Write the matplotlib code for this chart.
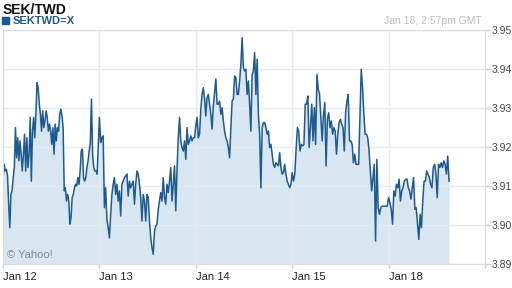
import numpy as np
import matplotlib.pyplot as plt
from matplotlib.patches import Rectangle

plt.rcParams['font.family'] = ['Liberation Sans', 'DejaVu Sans']

days = ['Jan 12', 'Jan 13', 'Jan 14', 'Jan 15', 'Jan 18']
yticks = [3.89, 3.90, 3.91, 3.92, 3.93, 3.94, 3.95]

# SEK/TWD quotes, one list per trading day
jan12 = [3.9117, 3.9155, 3.9138, 3.9142, 3.9125, 3.9053, 3.8993, 3.9078, 3.9087, 3.9121,
         3.9147, 3.9249, 3.9172, 3.9223, 3.9164, 3.9215, 3.9181, 3.9138, 3.9181, 3.9232,
         3.9138, 3.9223, 3.9147, 3.9181, 3.9275, 3.9112, 3.9240, 3.9275, 3.9223, 3.9283,
         3.9364, 3.9351, 3.9309, 3.9283, 3.9240, 3.9292, 3.9249, 3.9266, 3.9292, 3.9275,
         3.9240, 3.9258, 3.9240, 3.9206, 3.9249, 3.9181, 3.9258, 3.9215, 3.9249, 3.9240,
         3.9283, 3.9296, 3.9279, 3.9249, 3.9087, 3.9095, 3.9061, 3.9078, 3.9061, 3.9002,
         3.9019, 3.9070, 3.9078, 3.9095, 3.9104, 3.9100, 3.9121, 3.9104, 3.9138, 3.9189,
         3.9194, 3.9121, 3.9112, 3.9121, 3.9147, 3.9164, 3.9189, 3.9211, 3.9322, 3.9181,
         3.9147, 3.9138, 3.9138, 3.9130, 3.9206]
jan13 = [3.9275, 3.9211, 3.9223, 3.9228, 3.9044, 3.9095, 3.9014, 3.8993, 3.8967, 3.9027,
         3.9078, 3.9104, 3.9121, 3.9078, 3.9104, 3.9061, 3.9087, 3.9023, 3.9104, 3.9112,
         3.9121, 3.9125, 3.9130, 3.9074, 3.9112, 3.9095, 3.9104, 3.9112, 3.9053, 3.9104,
         3.9138, 3.9130, 3.9104, 3.9070, 3.9010, 3.9078, 3.9061, 3.9010, 3.9078, 3.9070,
         3.9010, 3.8967, 3.8942, 3.8925, 3.8984, 3.8997, 3.9002, 3.9040, 3.9061, 3.9083,
         3.9061, 3.9121, 3.9070, 3.9053, 3.9104, 3.9083, 3.9112, 3.9147, 3.9061, 3.9104,
         3.9151, 3.9036, 3.9142, 3.9223, 3.9275, 3.9215, 3.9198, 3.9189, 3.9215, 3.9168,
         3.9249, 3.9206, 3.9215, 3.9228, 3.9215, 3.9223, 3.9223]
jan14 = [3.9253, 3.9275, 3.9223, 3.9232, 3.9296, 3.9334, 3.9351, 3.9322, 3.9279, 3.9326,
         3.9334, 3.9309, 3.9283, 3.9245, 3.9304, 3.9339, 3.9373, 3.9309, 3.9309, 3.9317,
         3.9283, 3.9300, 3.9266, 3.9240, 3.9223, 3.9215, 3.9198, 3.9172, 3.9249, 3.9317,
         3.9322, 3.9381, 3.9377, 3.9334, 3.9334, 3.9368, 3.9411, 3.9479, 3.9403, 3.9394,
         3.9398, 3.9334, 3.9368, 3.9309, 3.9240, 3.9385, 3.9394, 3.9441, 3.9334, 3.9424,
         3.9283, 3.9232, 3.9095, 3.9249, 3.9262, 3.9262, 3.9249, 3.9232, 3.9240, 3.9198,
         3.9206, 3.9181, 3.9155, 3.9147, 3.9159, 3.9155, 3.9151, 3.9185, 3.9147, 3.9130,
         3.9134, 3.9155, 3.9130, 3.9112, 3.9104, 3.9095, 3.9104]
jan15 = [3.9134, 3.9112, 3.9130, 3.9194, 3.9249, 3.9240, 3.9189, 3.9206, 3.9202, 3.9206,
         3.9309, 3.9309, 3.9330, 3.9198, 3.9249, 3.9309, 3.9215, 3.9300, 3.9206, 3.9385,
         3.9347, 3.9334, 3.9275, 3.9215, 3.9279, 3.9313, 3.9151, 3.9270, 3.9287, 3.9249,
         3.9266, 3.9232, 3.9249, 3.9240, 3.9181, 3.9232, 3.9262, 3.9270, 3.9258, 3.9249,
         3.9189, 3.9287, 3.9317, 3.9334, 3.9215, 3.9215, 3.9206, 3.9159, 3.9181, 3.9155,
         3.9155, 3.9155, 3.9275, 3.9398, 3.9351, 3.9283, 3.9232, 3.9232, 3.9223, 3.9189,
         3.9138, 3.9087, 3.9121, 3.9155, 3.8959, 3.9168, 3.9044, 3.9027, 3.9044, 3.9048,
         3.9048, 3.9048, 3.9048, 3.9048]
jan18 = [3.9070, 3.9057, 3.9040, 3.9002, 3.9087, 3.9074, 3.9104, 3.9095, 3.9117, 3.9061,
         3.9087, 3.9095, 3.9112, 3.9117, 3.9117, 3.9095, 3.9087, 3.9066, 3.9095, 3.9121,
         3.9040, 3.9044, 3.9002, 3.8963, 3.9027, 3.8993, 3.9061, 3.9112, 3.9112, 3.9138,
         3.9130, 3.9121, 3.9104, 3.9095, 3.9147, 3.9155, 3.9130, 3.9070, 3.9155, 3.9147,
         3.9159, 3.9147, 3.9164, 3.9155, 3.9130, 3.9176, 3.9112]
# share of the last session covered up to 2:57pm
last_frac = 0.627

t = []
v = []
for i, day in enumerate([jan12, jan13, jan14, jan15]):
    t.extend(i + np.linspace(0, 1, len(day), endpoint=False))
    v.extend(day)
t.extend(4 + np.linspace(0, last_frac, len(jan18)))
v.extend(jan18)

blue = '#1c5a91'

fig = plt.figure(figsize=(5.12, 2.88), dpi=100)
ax = fig.add_axes([3 / 512, 24 / 288, 482 / 512, 234.5 / 288])
ax.fill_between(t, v, yticks[0], color='#d7e6f1', lw=0)
ax.plot(t, v, color=blue, lw=1.1)

ax.set_xlim(0, 5)
ax.set_ylim(yticks[0], yticks[-1])
ax.set_xticks(range(6))
ax.set_xticklabels(days + [''])
for lbl in ax.get_xticklabels():
    lbl.set_ha('left')
ax.set_yticks(yticks)
ax.set_yticklabels([f'{y:.2f}' for y in yticks])
ax.yaxis.tick_right()
ax.grid(color='#e6e9ef', lw=1)
ax.tick_params(axis='y', length=4, width=1, color='#cccccc', labelsize=7.5,
               labelcolor='#444444', pad=1)
ax.tick_params(axis='x', length=3, width=1, color='#cccccc', labelsize=8,
               labelcolor='#222222', pad=3)
for s in ax.spines.values():
    s.set_color('#dddddd')

fig.text(3 / 512, 1 - 2.5 / 288, 'SEK/TWD', weight='bold', size=10, va='top', color='#111111')
fig.patches.append(Rectangle((2 / 512, 1 - 24 / 288), 7 / 512, 7 / 288,
                             transform=fig.transFigure, color=blue))
fig.text(13 / 512, 1 - 20.5 / 288, 'SEKTWD=X', weight='bold', size=8, va='center', color=blue)
fig.text(482 / 512, 1 - 24 / 288, 'Jan 18, 2:57pm GMT', size=7.5, ha='right',
         va='baseline', color='#bbbbbb')
fig.text(7 / 512, 1 - 258 / 288, '© Yahoo!', size=8, va='baseline', color='#888888')

fig.savefig('out.png', dpi=100)
